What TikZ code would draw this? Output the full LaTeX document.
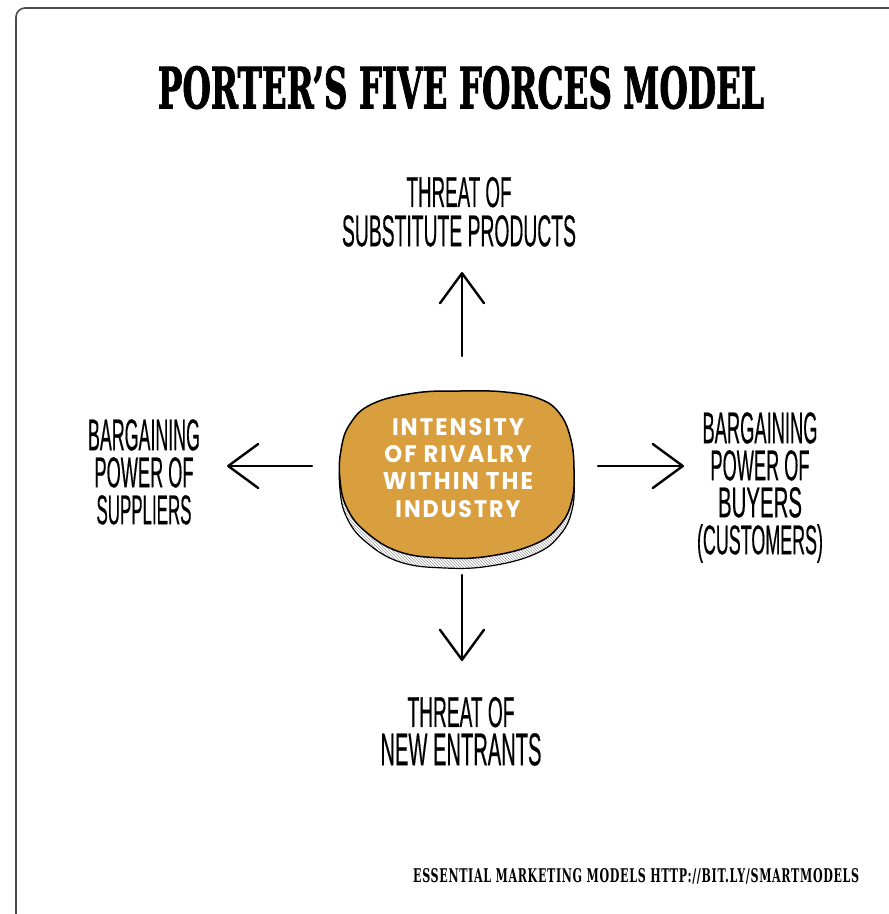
\documentclass[tikz,border=0pt]{standalone}
\usepackage{fontspec}
\usepackage{graphicx}
\usetikzlibrary{arrows.meta,patterns}
\newfontfamily\titlefont{DejaVu Serif}[FakeBold=2]
\newfontfamily\handfont{Liberation Sans}[FakeBold=0.6]
\newfontfamily\blobfont{Poppins}[LetterSpace=9]
\newfontfamily\footfont{DejaVu Serif}[LetterSpace=6]
\definecolor{blobfill}{RGB}{217,159,62}
\definecolor{framegray}{RGB}{75,75,75}
\newcommand\fitto[3]{\resizebox{#1pt}{#2pt}{#3}}
\tikzset{
  forcetext/.style={anchor=north, inner sep=0pt, align=center,
    font=\handfont\fontsize{20pt}{#1}\selectfont},
  blobtext/.style={anchor=north, inner sep=0pt, align=center, text=white,
    font=\blobfont\bfseries\fontsize{12pt}{27.3pt}\selectfont},
  arrowline/.style={line width=2.4pt, line cap=round,
    -{Straight Barb[length=30pt,width=44pt,round]}},
  facefill/.style={fill=blobfill, draw=black, line width=1.5pt},
  rimfill/.style={fill=white, draw=black, line width=1.2pt}
}
\newcommand\blobshape{plot[smooth cycle, tension=0.7] coordinates {
  (460,391) (505,392) (540,399) (560,414) (571,440) (574,470) (572,500)
  (560,525) (535,544) (490,556) (445,558) (400,552) (366,532) (347,508)
  (340,480) (341,450) (350,424) (372,404) (415,393)}}
\begin{document}
\begin{tikzpicture}[x=1pt,y=-1pt]
\useasboundingbox (0,0) rectangle (889,914);
% frame
\draw[framegray, line width=1.6pt, rounded corners=9pt] (16,914) -- (16,8) -- (889,8);
% title
\node[anchor=north, inner sep=0pt] (title) at (461,66)
  {\fitto{606}{42}{\titlefont\bfseries PORTER’S FIVE FORCES MODEL}};
% central blob
\begin{scope}[yshift=-10pt]
  \fill[white] \blobshape;
  \fill[pattern=north west lines, pattern color=gray!80] \blobshape;
  \draw[black, line width=1.2pt] \blobshape;
\end{scope}
\draw[facefill] \blobshape;
\node[blobtext] (rivalry) at (458,418)
  {\fitto{132}{17}{INTENSITY}\\ \fitto{147}{17}{OF RIVALRY}\\
   \fitto{150}{17}{WITHIN THE}\\ \fitto{125}{17}{INDUSTRY}};
% labels
\node[forcetext=39.3pt] (substitutes) at (459,176.7)
  {\fitto{105}{30}{THREAT OF}\\ \fitto{234}{31}{SUBSTITUTE PRODUCTS}};
\node[forcetext=37pt] (suppliers) at (144,419)
  {\fitto{112}{31}{BARGAINING}\\ \fitto{99}{30}{POWER OF}\\ \fitto{95}{29}{SUPPLIERS}};
\node[forcetext=37pt] (buyers) at (760,412)
  {\fitto{115}{31}{BARGAINING}\\ \fitto{99}{30}{POWER OF}\\ \fitto{84}{30}{BUYERS}\\ \fitto{126}{30}{(CUSTOMERS)}};
\node[forcetext=38.3pt] (entrants) at (461,696.7)
  {\fitto{107}{30}{THREAT OF}\\ \fitto{161}{32}{NEW ENTRANTS}};
% arrows
\coordinate (upS) at (462,356);   \coordinate (upE) at (462,272);
\coordinate (leftS) at (312,466); \coordinate (leftE) at (227,466);
\coordinate (rightS) at (598,466);\coordinate (rightE) at (684,466);
\coordinate (downS) at (462,575); \coordinate (downE) at (462,661);
\draw[arrowline] (upS) -- (upE);
\draw[arrowline] (leftS) -- (leftE);
\draw[arrowline] (rightS) -- (rightE);
\draw[arrowline] (downS) -- (downE);
% footer
\node[anchor=north west, inner sep=0pt] (footer) at (413,868)
  {\fitto{446}{14}{\footfont\bfseries ESSENTIAL MARKETING MODELS HTTP://BIT.LY/SMARTMODELS}};
\end{tikzpicture}
\end{document}
